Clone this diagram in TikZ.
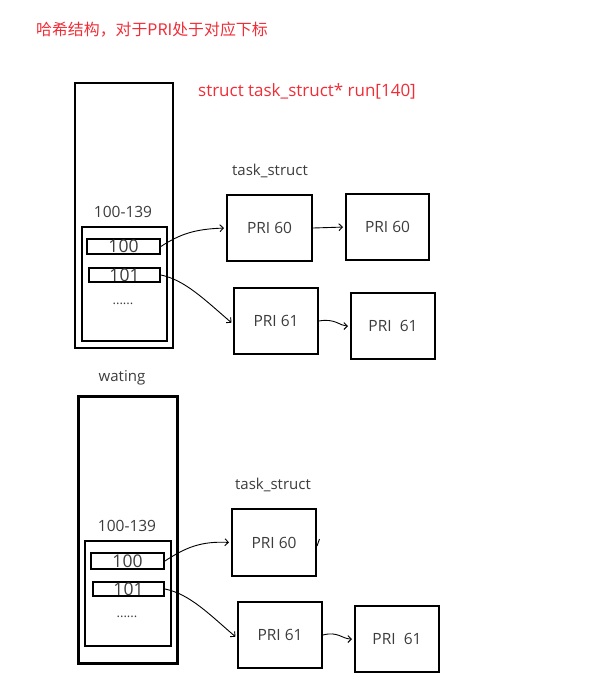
\documentclass[tikz,border=0pt]{standalone}
\usepackage{fontspec}
\setmainfont{Open Sans}
\newfontfamily\cjk{Noto Sans CJK SC}
\usetikzlibrary{arrows.meta}
\definecolor{txtred}{RGB}{240,45,55}
\definecolor{txtgray}{RGB}{60,60,60}
\tikzset{
  box/.style={draw=black, line width=2pt, inner sep=0pt, text=txtgray, font=\fontsize{15.5}{15}\selectfont},
  slot/.style={draw=black, line width=1.8pt, inner sep=0pt, text=txtgray, font=\fontsize{17.5}{16}\selectfont},
  lbl/.style={inner sep=0pt, text=txtgray, font=\fontsize{15}{15}\selectfont},
  conn/.style={line width=0.9pt, -{Straight Barb[length=3.5pt,width=7pt]}, shorten >=2pt}
}
\begin{document}
\begin{tikzpicture}[x=1pt,y=-1pt]
\useasboundingbox (0,0) rectangle (605,689);
% titles
\node[anchor=west, inner sep=0pt, text=txtred, font=\fontsize{15.9}{16}\selectfont] (title) at (36,30) {\cjk 哈希结构，对于PRI处于对应下标};
\node[anchor=west, inner sep=0pt, text=txtred, font=\fontsize{17}{17}\selectfont] (runlbl) at (198,91) {struct task\_struct* run[140]};
% top array
\node[box, minimum width=98pt, minimum height=265pt] (out1) at (124,215.5) {};
\node[lbl, font=\fontsize{15.5}{15}\selectfont] (rng1) at (123,212) {100-139};
\node[box, minimum width=85pt, minimum height=114pt] (in1) at (124.5,284) {};
\node[slot, minimum width=73pt, minimum height=15pt] (s100a) at (123.5,246.5) {100};
\node[slot, minimum width=71pt, minimum height=14pt] (s101a) at (124.5,275) {101};
\node[lbl, font=\fontsize{13}{13}\selectfont] (dots1) at (123,304) {......};
\node[lbl] (ts1) at (270,171) {task\_struct};
\node[box, minimum width=85pt, minimum height=66pt] (p60a) at (269.5,228) {PRI 60};
\node[box, minimum width=83pt, minimum height=66pt] (p60b) at (387.5,227) {PRI 60};
\node[box, minimum width=84pt, minimum height=66pt] (p61a) at (276,321) {PRI 61};
\node[box, minimum width=84pt, minimum height=66pt] (p61b) at (393,326) {PRI\ \ 61};
\draw[conn] (s100a.east) .. controls (180,234) and (195,229) .. (p60a.west);
\draw[conn] (s101a.east) .. controls (185,280) and (205,300) .. ([yshift=-3pt]p61a.west);
\draw[conn] (p60a.east) -- (p60b.west);
\draw[conn] (p61a.east) .. controls (335,318) and (340,326) .. (p61b.west);
% bottom array
\node[lbl] (wat) at (122,378) {wating};
\node[box, line width=3pt, minimum width=99pt, minimum height=267pt] (out2) at (127.5,529.5) {};
\node[lbl, font=\fontsize{15.5}{15}\selectfont] (rng2) at (127,526) {100-139};
\node[box, minimum width=86pt, minimum height=105pt] (in2) at (128,593.5) {};
\node[slot, minimum width=73pt, minimum height=16pt] (s100b) at (127.5,561) {100};
\node[slot, minimum width=71pt, minimum height=14pt] (s101b) at (128.5,589) {101};
\node[lbl, font=\fontsize{13}{13}\selectfont] (dots2) at (127,617) {......};
\node[lbl] (ts2) at (273,485) {task\_struct};
\node[box, minimum width=84pt, minimum height=67pt] (q60) at (274,542.5) {PRI 60};
\node[box, minimum width=84pt, minimum height=66pt] (q61a) at (280,635) {PRI 61};
\node[box, minimum width=84pt, minimum height=66pt] (q61b) at (397,639) {PRI\ \ 61};
\coordinate (tick) at (319.5,539);
\draw[line width=0.9pt] ([yshift=-3.5pt]q60.east) -- (tick);
\draw[conn] (s100b.east) .. controls (185,548) and (200,541) .. (q60.west);
\draw[conn] (s101b.east) .. controls (190,594) and (210,615) .. ([yshift=-3pt]q61a.west);
\draw[conn] (q61a.east) .. controls (338,631) and (342,639) .. (q61b.west);
\end{tikzpicture}
\end{document}
